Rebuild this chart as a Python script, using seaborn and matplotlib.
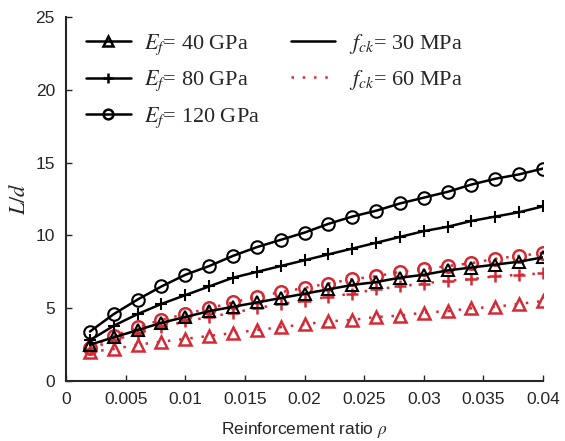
import numpy as np
import pandas as pd
import matplotlib
matplotlib.use("Agg")
import matplotlib.pyplot as plt
from matplotlib.lines import Line2D
import seaborn as sns

# reinforcement ratio
rho = [0.002, 0.004, 0.006, 0.008, 0.010, 0.012, 0.014, 0.016, 0.018, 0.020,
       0.022, 0.024, 0.026, 0.028, 0.030, 0.032, 0.034, 0.036, 0.038, 0.040]

# fck = 30 MPa
e40_f30 = [2.5, 3.0, 3.5, 4.0, 4.4, 4.8, 5.1, 5.4, 5.7, 6.0,
           6.3, 6.6, 6.8, 7.1, 7.3, 7.6, 7.8, 8.0, 8.2, 8.5]
e80_f30 = [2.8, 3.8, 4.6, 5.3, 5.9, 6.5, 7.1, 7.5, 7.9, 8.3,
           8.7, 9.1, 9.5, 9.9, 10.3, 10.6, 11.0, 11.3, 11.6, 12.0]
e120_f30 = [3.4, 4.6, 5.6, 6.5, 7.3, 7.9, 8.6, 9.2, 9.7, 10.2,
            10.8, 11.3, 11.7, 12.2, 12.6, 13.0, 13.5, 13.9, 14.2, 14.6]

# fck = 60 MPa
e40_f60 = [2.0, 2.2, 2.5, 2.7, 2.9, 3.1, 3.3, 3.5, 3.7, 3.9,
           4.1, 4.2, 4.4, 4.5, 4.7, 4.8, 5.0, 5.1, 5.3, 5.5]
e80_f60 = [2.2, 2.8, 3.3, 3.7, 4.1, 4.4, 4.7, 5.0, 5.3, 5.5,
           5.8, 6.0, 6.3, 6.5, 6.7, 6.9, 7.0, 7.2, 7.3, 7.4]
e120_f60 = [2.3, 3.1, 3.7, 4.2, 4.6, 5.0, 5.4, 5.8, 6.1, 6.4,
            6.7, 7.0, 7.2, 7.5, 7.7, 7.9, 8.1, 8.4, 8.6, 8.8]

sns.set_style("ticks")
plt.rcParams["font.family"] = ["Liberation Sans", "DejaVu Sans"]
plt.rcParams["mathtext.fontset"] = "stix"

red = "#d42a35"

fig = plt.figure(figsize=(5.65, 4.41), dpi=100)
ax = fig.add_axes([0.117, 0.136, 0.844, 0.825])

# fck = 60 series (red dotted) drawn first, black on top
for vals, mk in [(e40_f60, "^"), (e80_f60, "+"), (e120_f60, "o")]:
    sns.lineplot(x=rho, y=vals, ax=ax, color=red, linestyle=(0, (1, 3.5)), lw=1.8,
                 marker=mk, markersize=9, mfc="none", mec=red, mew=1.8, legend=False)

for vals, mk in [(e40_f30, "^"), (e80_f30, "+"), (e120_f30, "o")]:
    sns.lineplot(x=rho, y=vals, ax=ax, color="black", linestyle="-", lw=1.8,
                 marker=mk, markersize=9, mfc="none", mec="black", mew=1.5, legend=False)

ax.set_xlim(0, 0.04)
ax.set_ylim(0, 25)
ax.set_xticks(np.arange(0, 0.0401, 0.005))
ax.set_xticklabels(["0", "0.005", "0.01", "0.015", "0.02", "0.025", "0.03", "0.035", "0.04"])
ax.set_yticks(range(0, 26, 5))
ax.tick_params(direction="in", labelsize=12.5, length=4, width=1, pad=8)
for s in ["left", "bottom"]:
    ax.spines[s].set_linewidth(1.5)
sns.despine(ax=ax)

ax.set_xlabel(r"Reinforcement ratio $\rho$", fontsize=12.5, labelpad=9)
ax.set_ylabel(r"$L/d$", fontsize=16, labelpad=4)

handles = [
    Line2D([], [], color="black", lw=1.8, marker="^", markersize=7, mfc="none", mew=1.8),
    Line2D([], [], color="black", lw=1.8, marker="+", markersize=7, mew=1.8),
    Line2D([], [], color="black", lw=1.8, marker="o", markersize=7, mfc="none", mew=1.8),
    Line2D([], [], color="black", lw=1.8),
    Line2D([], [], color=red, lw=1.8, linestyle=(0, (1, 3.5))),
]
labels = [r"$E_f$= 40 GPa", r"$E_f$= 80 GPa", r"$E_f$= 120 GPa",
          r"$f_{ck}$= 30 MPa", r"$f_{ck}$= 60 MPa"]
ax.legend(handles, labels, loc="upper left", ncol=2, frameon=False,
          prop={"family": "Liberation Serif", "size": 16},
          handlelength=2.0, handletextpad=0.6, columnspacing=1.4, labelspacing=0.55,
          bbox_to_anchor=(0.0, 1.015))

fig.savefig("out.png", dpi=100)
